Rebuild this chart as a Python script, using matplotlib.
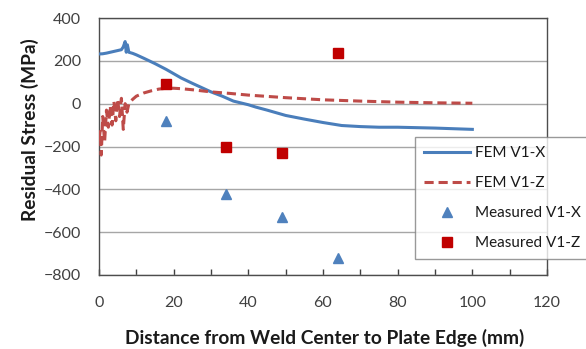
import matplotlib
matplotlib.use("Agg")
import matplotlib.pyplot as plt
from matplotlib.ticker import MultipleLocator

plt.rcParams['font.family'] = ['Lato', 'DejaVu Sans']

# FEM V1-X
fem_x_dist = [0, 1, 2, 3, 4, 5, 6, 6.5, 7, 7.3, 7.6, 8, 9, 10, 12, 15, 18, 20, 22, 25,
              30, 33, 36, 40, 42, 45, 50, 55, 60, 65, 70, 75, 80, 85, 90, 95, 100]
fem_x_val = [232, 233, 236, 240, 244, 248, 252, 265, 290, 240, 275, 240, 235, 228, 212, 187,
             160, 140, 120, 95, 55, 35, 12, -5, -16, -30, -55, -72, -88, -102, -107, -110,
             -110, -112, -114, -117, -120]

# FEM V1-Z
fem_z_dist = [0, 0.3, 0.6, 1.0, 1.5, 2.0, 2.5, 3.0, 3.5, 4.0, 4.5, 5.0, 5.5, 6.0, 6.5, 7.0,
              7.5, 8.0, 9, 10, 12, 14, 16, 18, 20, 22, 25, 30, 35, 40, 50, 60, 70, 80, 90, 100]
fem_z_val = [-170, -130, -240, -60, -180, -30, -110, -10, -100, 10, -80, 20, -60, 25, -120, 0,
             -40, 0, 20, 35, 50, 60, 68, 72, 72, 70, 65, 55, 48, 40, 28, 18, 12, 7, 4, 2]

# Measured
meas_dist = [18, 34, 49, 64]
meas_x_val = [-80, -422, -527, -720]
meas_z_val = [93, -203, -232, 237]

xticks = [0, 20, 40, 60, 80, 100, 120]
yticks = [-800, -600, -400, -200, 0, 200, 400]

fig = plt.figure(figsize=(5.86, 3.49), dpi=100)
ax = fig.add_axes([99/586, 1-275/349, 448/586, 257/349])

ax.plot(fem_x_dist, fem_x_val, color='#4a7ebb', lw=2.2, label='FEM V1-X', zorder=3)
ax.plot(fem_z_dist, fem_z_val, color='#be4b48', lw=2.2, dashes=(3, 1.6), label='FEM V1-Z', zorder=3)
ax.plot(meas_dist, meas_x_val, ls='none', marker='^', ms=7, color='#4f81bd',
        label='Measured V1-X', zorder=4)
ax.plot(meas_dist, meas_z_val, ls='none', marker='s', ms=6.5, color='#c00000',
        label='Measured V1-Z', zorder=4)

ax.set_xlim(0, 120)
ax.set_ylim(-800, 400)
ax.set_xticks(xticks)
ax.set_yticks(yticks)
ax.xaxis.set_minor_locator(MultipleLocator(10))
ax.grid(axis='y', color='#a6a6a6', lw=1)
ax.set_axisbelow(True)

ax.tick_params(axis='x', which='both', direction='in', length=4, width=1, color='#404040',
               pad=15, labelsize=11.5, labelcolor='#404040')
ax.tick_params(axis='y', which='both', length=0, pad=13, labelsize=11.5, labelcolor='#404040')
for s in ax.spines.values():
    s.set_color('#4d4d4d')
    s.set_linewidth(1)

fig.text(324.5/586, 1-338/349, 'Distance from Weld Center to Plate Edge (mm)', ha='center',
         va='center', fontsize=13.8, fontweight='bold', color='#1a1a1a')
fig.text(30/586, 1-130/349, 'Residual Stress (MPa)', ha='center', va='center', rotation=90,
         fontsize=13.8, fontweight='bold', color='#1a1a1a')

leg = fig.legend(loc='upper left', bbox_to_anchor=(415/586, 1-137/349), fontsize=11,
                 frameon=True, fancybox=False, edgecolor='#808080', handlelength=3,
                 labelspacing=1.05, borderaxespad=0, borderpad=0.6, handletextpad=0.3)
leg.get_frame().set_linewidth(1)
for t in leg.get_texts():
    t.set_color('#1a1a1a')

fig.savefig('out.png', dpi=100)
